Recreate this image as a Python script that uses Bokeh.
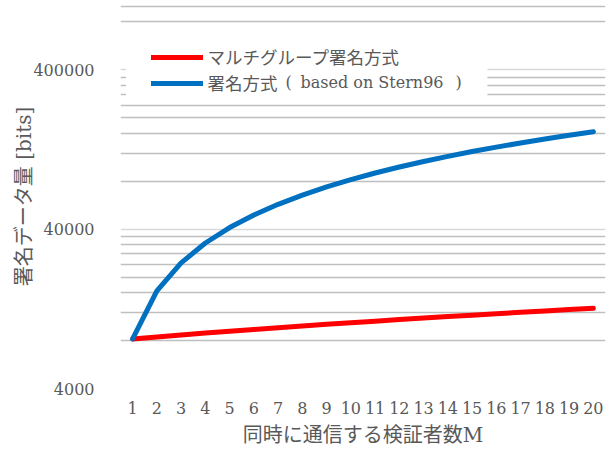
import math
from bokeh.plotting import figure
from bokeh.models import (FixedTicker, Range1d, CustomJSTickFormatter, BoxAnnotation,
                          Legend, LegendItem, Label)
from bokeh.embed import file_html
from bokeh.resources import INLINE

# ---- data ----
M = [1, 2, 3, 4, 5, 6, 7, 8, 9, 10, 11, 12, 13, 14, 15, 16, 17, 18, 19, 20]
multigroup = [8192, 8432, 8672, 8912, 9152, 9392, 9632, 9872, 10112, 10352,
              10592, 10832, 11072, 11312, 11552, 11792, 12032, 12272, 12512, 12752]
stern96 = [8192, 16384, 24576, 32768, 40960, 49152, 57344, 65536, 73728, 81920,
           90112, 98304, 106496, 114688, 122880, 131072, 139264, 147456, 155648, 163840]
y_major = [4000, 40000, 400000]
y_minor = [8000, 12000, 16000, 20000, 24000, 28000, 32000, 36000,
           80000, 120000, 160000, 200000, 240000, 280000, 320000, 360000,
           800000, 1000000]
series_names = ["マルチグループ署名方式", "署名方式", "(", "based on Stern96", ")"]
x_title = "同時に通信する検証者数M"
y_title = "署名データ量 [bits]"

TXT = "#595959"
SERIF = "DejaVu Serif, Noto Sans CJK JP"
CJK = "Noto Sans CJK JP"

p = figure(width=612, height=453, output_backend="svg", toolbar_location=None,
           y_axis_type="log",
           x_range=Range1d(0.5, 20.5), y_range=Range1d(4000, 1030000),
           min_border_left=120, min_border_right=7, min_border_top=4,
           min_border_bottom=65)
p.outline_line_color = None
p.background_fill_color = "white"
p.border_fill_color = "white"

p.xgrid.grid_line_color = None
p.ygrid.grid_line_color = "#d9d9d9"
p.ygrid.grid_line_width = 1.3
p.ygrid.minor_grid_line_color = "#bfbfbf"
p.ygrid.minor_grid_line_width = 1.3

p.yaxis.ticker = FixedTicker(ticks=y_major, minor_ticks=y_minor)
p.yaxis.formatter = CustomJSTickFormatter(code="return tick.toFixed(0);")
p.xaxis.ticker = FixedTicker(ticks=M)
for ax in (p.xaxis[0], p.yaxis[0]):
    ax.axis_line_color = None
    ax.major_tick_line_color = None
    ax.minor_tick_line_color = None
    ax.major_label_text_font = SERIF
    ax.major_label_text_font_size = "16px"
    ax.major_label_text_color = TXT
    ax.axis_label_text_font = SERIF
    ax.axis_label_text_font_size = "20px"
    ax.axis_label_text_font_style = "normal"
    ax.axis_label_text_color = TXT

p.xaxis.axis_label = x_title
p.yaxis.axis_label = y_title
p.xaxis.major_label_standoff = 7
p.xaxis.axis_label_standoff = 6
p.yaxis.major_label_standoff = 20
p.yaxis.axis_label_standoff = -6

r1 = p.line(M, multigroup, line_color="#FF0000", line_width=5,
            line_cap="round", line_join="round")
r2 = p.line(M, stern96, line_color="#0070C0", line_width=5,
            line_cap="round", line_join="round")

box = BoxAnnotation(left=0.727, right=15.63, bottom=256000, top=705000,
                    fill_color="white", fill_alpha=1.0, line_color=None)
p.add_layout(box)

legend = Legend(items=[LegendItem(label=series_names[0], renderers=[r1]),
                       LegendItem(label=series_names[1], renderers=[r2])],
                location=(30.5, 293), padding=0, margin=0, spacing=1,
                glyph_width=52, glyph_height=20, label_height=20,
                label_standoff=5, background_fill_alpha=0,
                border_line_alpha=0,
                label_text_font=CJK, label_text_font_size="17.5px",
                label_text_color=TXT)
p.add_layout(legend)
for txt, xs in zip(series_names[2:], [165, 180, 335]):
    p.add_layout(Label(x=xs, y=306, x_units="screen", y_units="screen",
                       text=txt, text_align="left",
                       text_baseline="middle", text_font="DejaVu Serif",
                       text_font_size="16px", text_color=TXT))

open("out.html", "w").write(file_html(p, INLINE))
